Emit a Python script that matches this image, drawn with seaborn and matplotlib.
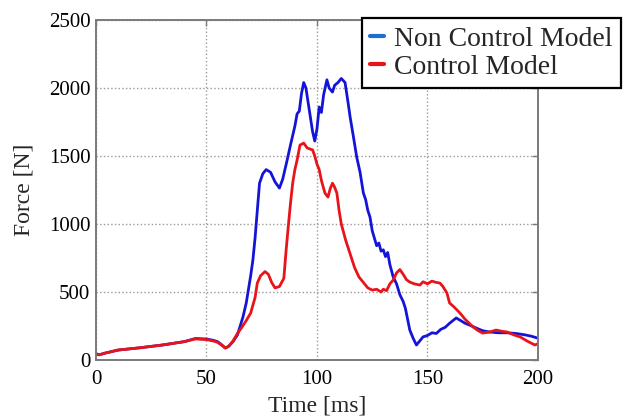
import matplotlib
matplotlib.use("Agg")
import matplotlib.pyplot as plt
from matplotlib.lines import Line2D
import seaborn as sns
import pandas as pd

# Impact force histories (time in ms, force in N)
time_nc = [0, 1.5, 4, 10, 20, 30, 40, 45, 50, 53, 55, 57, 58.5, 60, 62, 64,
           66.5, 68, 70, 71, 72, 73, 74, 75.5, 77, 79, 81, 83, 84.5, 86.5, 88,
           90, 91, 92, 93, 94, 95, 96.5, 98, 99, 100, 101, 102, 103, 104.5,
           105.5, 107, 108, 109.5, 111, 112.7, 114, 115, 116.5, 118, 119.5,
           121, 122, 123, 124, 125, 127, 128, 129, 130, 131, 132, 133, 134.5,
           136, 137.5, 139, 140, 141, 142, 143.5, 145, 146.5, 148, 150, 152,
           154, 156, 158, 160, 163, 165, 167, 169, 172, 175, 178, 182, 186,
           190, 194, 197, 200]
force_nc = [45, 38, 50, 73, 90, 110, 135, 158, 154, 145, 135, 110, 88, 100, 135, 184,
            316, 420, 620, 735, 900, 1100, 1300, 1370, 1400, 1380, 1310, 1264, 1330, 1470, 1580,
            1720, 1810, 1830, 1960, 2040, 2000, 1840, 1680, 1610, 1700, 1860, 1820, 1950, 2060,
            2000, 1970, 2020, 2040, 2070, 2040, 1900, 1786, 1640, 1490, 1380,
            1227, 1180, 1100, 1050, 950, 840, 860, 800, 810, 760, 790, 700, 610,
            560, 480, 430, 380, 300, 220, 160, 110, 140, 170, 180, 200,
            195, 225, 240, 270, 309, 290, 270, 257, 235, 215, 206, 200, 200,
            195, 185, 175, 160]

time_c = [0, 1.5, 4, 10, 20, 30, 40, 45, 50, 53, 55, 57, 58.5, 60, 62, 64,
          66, 68, 70, 72, 73, 74.5, 76.5, 78, 79.5, 81, 83, 85, 86, 87, 88, 89,
          90, 91, 92.3, 94, 95.5, 97, 98, 99, 100, 101, 102, 103.6, 105, 106,
          107, 108, 109, 110, 111, 112, 113, 115, 117, 119, 121, 123, 125, 127,
          129, 130, 131.5, 133, 134.5, 136, 137.5, 139, 140.5, 142, 144, 146.6,
          148, 150, 152, 154, 155.6, 157, 158.8, 160, 162, 164.7, 167, 170.6,
          173, 175, 178, 181, 184, 186, 189, 192, 195, 198.6, 200]
force_c = [45, 38, 50, 73, 90, 110, 135, 155, 150, 140, 130, 108, 88, 100, 140, 195,
           240, 290, 345, 460, 566, 620, 650, 630, 570, 530, 540, 600, 800, 980, 1150, 1300,
           1400, 1470, 1580, 1595, 1560, 1550, 1545, 1500, 1440, 1400, 1320, 1227, 1198, 1260,
           1300, 1270, 1227, 1100, 1000, 940, 880, 780, 680, 610, 570, 530, 514, 520,
           500, 520, 510, 560, 588, 640, 665, 630, 590, 573, 560, 551,
           575, 560, 580, 570, 566, 540, 492, 419, 390, 345, 300, 243,
           215, 198, 205, 220, 210, 206, 185, 169, 140, 110, 120]

series_labels = ["Non Control Model", "Control Model"]
x_ticks = [0, 50, 100, 150, 200]
y_ticks = [0, 500, 1000, 1500, 2000, 2500]

blue = "#1414d8"
red = "#e8141a"

sns.set_style("white")
plt.rcParams["font.family"] = ["Liberation Serif", "DejaVu Serif"]

df_nc = pd.DataFrame({"Time": time_nc, "Force": force_nc})
df_c = pd.DataFrame({"Time": time_c, "Force": force_c})

fig = plt.figure(figsize=(6.29, 4.20), dpi=100)
ax = fig.add_axes([0.1526, 0.1429, 0.7027, 0.8095])

sns.lineplot(data=df_nc, x="Time", y="Force", ax=ax, color=blue, lw=2.0,
             estimator=None, sort=False)
sns.lineplot(data=df_c, x="Time", y="Force", ax=ax, color=red, lw=2.0,
             estimator=None, sort=False)

ax.set_xlim(0, 200)
ax.set_ylim(0, 2500)
ax.set_xticks(x_ticks)
ax.set_yticks(y_ticks)
ax.grid(True, linestyle=":", color="#9a9a9a", linewidth=1.0)
for s in ax.spines.values():
    s.set_visible(True)
    s.set_color("#7a7a7a")
    s.set_linewidth(1.4)
ax.tick_params(direction="in", length=4, width=1, color="#7a7a7a",
               top=True, right=True, labelsize=15, labelcolor="black")
ax.tick_params(axis="x", pad=7)
ax.tick_params(axis="y", pad=4)
ax.set_xlabel("Time [ms]", fontsize=17, labelpad=5)
ax.set_ylabel("Force [N]", fontsize=17, labelpad=10)

handles = [Line2D([0], [0], color="#1a6fd0", lw=3),
           Line2D([0], [0], color=red, lw=3)]
leg = ax.legend(handles, series_labels, loc="upper left",
                bbox_to_anchor=(0.602, 1.006), borderaxespad=0,
                fontsize=20, handlelength=0.5, handletextpad=0.35,
                borderpad=0.3, labelspacing=0.1, frameon=True, fancybox=False)
leg.get_frame().set_edgecolor("black")
leg.get_frame().set_linewidth(1.6)
leg.get_frame().set_alpha(1)

fig.savefig("out.png", dpi=100)
